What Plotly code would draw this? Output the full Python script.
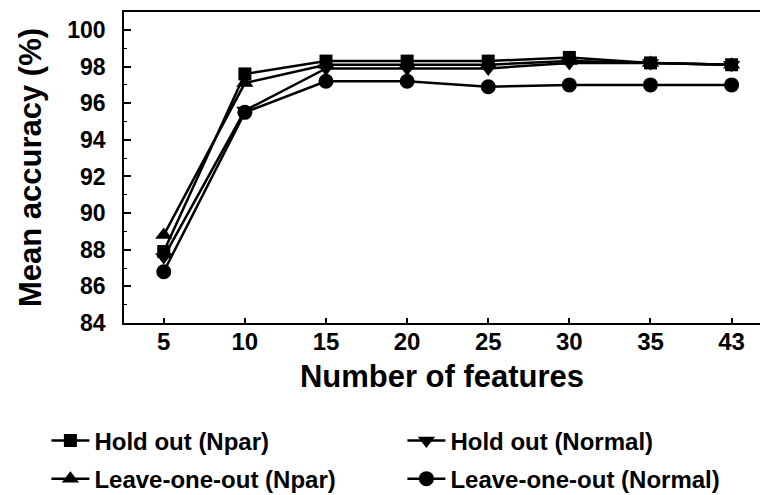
import plotly.graph_objects as go

# Number of features evaluated
features = ["5", "10", "15", "20", "25", "30", "35", "43"]

# Mean accuracy (%) for each evaluation scheme
hold_out_npar = [87.9, 97.6, 98.3, 98.3, 98.3, 98.5, 98.2, 98.1]
hold_out_normal = [87.6, 95.6, 97.9, 97.9, 97.9, 98.2, 98.2, 98.1]
loo_npar = [88.8, 97.1, 98.1, 98.1, 98.1, 98.3, 98.2, 98.1]
loo_normal = [86.8, 95.5, 97.2, 97.2, 96.9, 97.0, 97.0, 97.0]

y_ticks = [84, 86, 88, 90, 92, 94, 96, 98, 100]

FONT = "Liberation Sans, Arial, sans-serif"
xpos = list(range(len(features)))

series = [
    ("Hold out (Npar)", hold_out_npar, "square", 13, "legend"),
    ("Hold out (Normal)", hold_out_normal, "triangle-down", 15, "legend"),
    ("Leave-one-out (Npar)", loo_npar, "triangle-up", 15, "legend2"),
    ("Leave-one-out (Normal)", loo_normal, "circle", 15, "legend2"),
]

fig = go.Figure()
for name, vals, sym, size, leg in series:
    fig.add_trace(go.Scatter(
        x=xpos, y=vals, name=name, mode="lines+markers",
        line=dict(color="black", width=2.5),
        marker=dict(symbol=sym, size=size, color="black"),
        legend=leg,
    ))

legend_common = dict(
    orientation="h", xanchor="left", yanchor="middle",
    x=-0.122, entrywidth=303, itemwidth=38,
    font=dict(family=FONT, size=24, color="black", weight="bold"),
    bgcolor="rgba(0,0,0,0)", tracegroupgap=0,
)

fig.update_layout(
    width=760, height=495,
    margin=dict(l=124, r=0, t=12, b=172, autoexpand=False),
    paper_bgcolor="white", plot_bgcolor="white",
    legend=dict(legend_common, y=-0.3794),
    legend2=dict(legend_common, y=-0.5017),
)

fig.update_xaxes(
    range=[-0.49, 7.35],
    tickvals=xpos, ticktext=features,
    ticks="inside", ticklen=5, tickwidth=1.5, tickcolor="black",
    showline=True, linecolor="black", linewidth=2, mirror=True,
    showgrid=False, zeroline=False,
    ticklabelstandoff=-4,
    tickfont=dict(family=FONT, size=24, color="black", weight="bold"),
    title=dict(text="Number of features", standoff=12,
               font=dict(family=FONT, size=31, color="black", weight="bold")),
)

fig.update_yaxes(
    range=[84, 100.98],
    tickvals=y_ticks,
    ticks="inside", ticklen=7, tickwidth=1.5, tickcolor="black",
    minor=dict(dtick=1, tick0=84, ticks="inside", ticklen=3, tickwidth=1, tickcolor="black"),
    showline=True, linecolor="black", linewidth=1.5,
    showgrid=False, zeroline=False,
    ticklabelstandoff=12,
    tickfont=dict(family=FONT, size=23, color="black", weight="bold"),
    title=dict(text="Mean accuracy (%)", standoff=16,
               font=dict(family=FONT, size=31, color="black", weight="bold")),
)

fig.write_html("out.html")
